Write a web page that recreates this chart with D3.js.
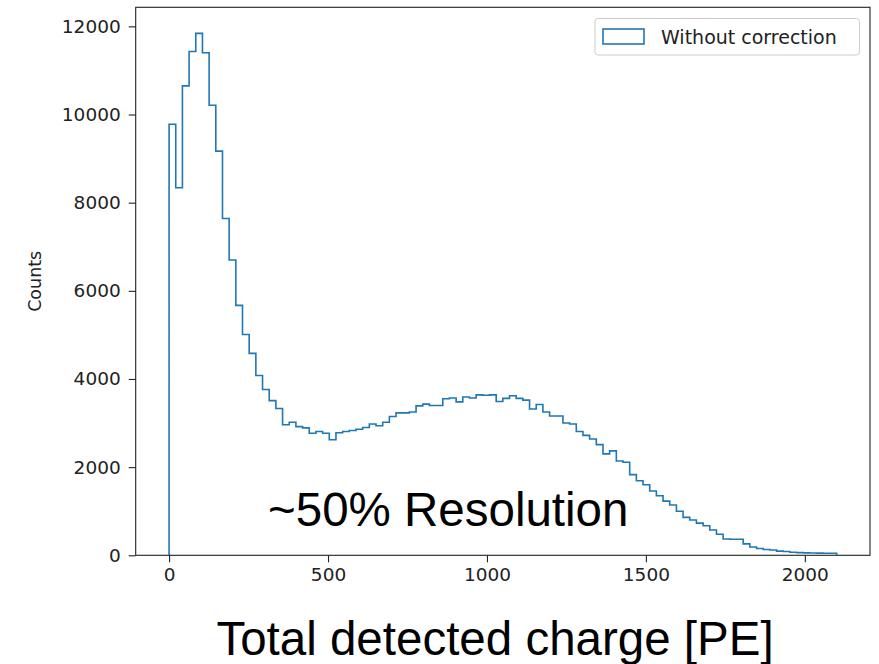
<!DOCTYPE html>
<html>
<head>
<meta charset="utf-8">
<script src="https://cdn.jsdelivr.net/npm/d3@7"></script>
<style>
  html, body { margin: 0; padding: 0; background: #fff; }
  svg { display: block; }
</style>
</head>
<body>
<script>
// ---- data ----
const binStart = 0;
const binWidth = 21;
const counts = [
  9780, 8340, 10650, 11430, 11840, 11400, 10210, 9170, 7640, 6700,
  5670, 5010, 4580, 4080, 3760, 3510, 3330, 2960, 3020, 2920,
  2890, 2770, 2810, 2770, 2620, 2780, 2810, 2830, 2860, 2900,
  2980, 2940, 3020, 3150, 3230, 3230, 3250, 3390, 3430, 3400,
  3400, 3550, 3570, 3480, 3590, 3570, 3640, 3630, 3640, 3490,
  3560, 3620, 3560, 3520, 3320, 3420, 3250, 3160, 3160, 3000,
  2980, 2810, 2720, 2640, 2510, 2300, 2370, 2140, 2110, 1830,
  1690, 1600, 1460, 1350, 1230, 1140, 1000, 860, 800, 730,
  670, 575, 477, 370, 365, 365, 260, 190, 155, 130,
  120, 95, 85, 70, 60, 55, 52, 50, 48, 45
];
const xTicks = [0, 500, 1000, 1500, 2000];
const yTicks = [0, 2000, 4000, 6000, 8000, 10000, 12000];
const legendLabel = "Without correction";
const yLabel = "Counts";
const xLabel = "Total detected charge [PE]";
const annotation = "~50% Resolution";

(function () {
// ---- layout ----
const W = 879, H = 664;
const mLeft = 135.7, mRight = 870, mTop = 7.3, mBottom = 555.3;
const tickFont = "DejaVu Sans, sans-serif";

const svg = d3.select("body").append("svg").attr("width", W).attr("height", H);

const edges = counts.map((_, i) => binStart + i * binWidth).concat([binStart + counts.length * binWidth]);
const xMin = edges[0], xMax = edges[edges.length - 1];
const xPad = (xMax - xMin) * 0.05;
const x = d3.scaleLinear().domain([xMin - xPad, xMax + xPad]).range([mLeft, mRight]);
const y = d3.scaleLinear().domain([0, d3.max(counts) * 1.05]).range([mBottom, mTop]);

// step path
const pts = [[edges[0], 0]];
counts.forEach((c, i) => { pts.push([edges[i], c]); pts.push([edges[i + 1], c]); });
pts.push([edges[edges.length - 1], 0]);
const line = d3.line().x(d => x(d[0])).y(d => y(d[1]));

svg.append("defs").append("clipPath").attr("id", "clip")
  .append("rect").attr("x", mLeft).attr("y", mTop).attr("width", mRight - mLeft).attr("height", mBottom - mTop);

svg.append("path").datum(pts)
  .attr("d", line)
  .attr("fill", "none")
  .attr("stroke", "#1f77b4")
  .attr("stroke-width", 1.6)
  .attr("stroke-linejoin", "miter")
  .attr("clip-path", "url(#clip)");

// axes
const xAxis = d3.axisBottom(x).tickValues(xTicks).tickSize(7).tickPadding(6).tickFormat(d3.format("d"));
const yAxis = d3.axisLeft(y).tickValues(yTicks).tickSize(7).tickPadding(8).tickFormat(d3.format("d"));

const gx = svg.append("g").attr("transform", `translate(0,${mBottom})`).call(xAxis);
const gy = svg.append("g").attr("transform", `translate(${mLeft},0)`).call(yAxis);
[gx, gy].forEach(g => {
  g.select(".domain").remove();
  g.selectAll(".tick line").attr("stroke", "#222").attr("stroke-width", 1.1);
  g.selectAll(".tick text").attr("fill", "#222").style("font-family", tickFont).style("font-size", "18.5px");
});

// frame
svg.append("rect").attr("x", mLeft).attr("y", mTop).attr("width", mRight - mLeft).attr("height", mBottom - mTop)
  .attr("fill", "none").attr("stroke", "#222").attr("stroke-width", 1.1);

// y label
svg.append("text")
  .attr("transform", `translate(41,${(mTop + mBottom) / 2}) rotate(-90)`)
  .attr("text-anchor", "middle")
  .attr("fill", "#222")
  .style("font-family", tickFont).style("font-size", "17.5px")
  .text(yLabel);

// legend
const lg = svg.append("g");
lg.append("rect").attr("x", 595).attr("y", 18.5).attr("width", 264.5).attr("height", 36.5)
  .attr("rx", 3).attr("fill", "#fff").attr("fill-opacity", 0.8).attr("stroke", "#ccc").attr("stroke-width", 1);
lg.append("rect").attr("x", 603).attr("y", 29).attr("width", 41).attr("height", 15)
  .attr("fill", "none").attr("stroke", "#1f77b4").attr("stroke-width", 1.6);
lg.append("text").attr("x", 661).attr("y", 36.8).attr("dy", "0.36em")
  .attr("fill", "#222").style("font-family", tickFont).style("font-size", "19px")
  .text(legendLabel);

// annotation
svg.append("text").attr("x", 268).attr("y", 526)
  .attr("fill", "#000").style("font-family", "Liberation Sans, Arial, sans-serif").style("font-size", "47.5px")
  .text(annotation);

// x label
svg.append("text").attr("x", 495).attr("y", 655).attr("text-anchor", "middle")
  .attr("fill", "#000").style("font-family", "Liberation Sans, Arial, sans-serif").style("font-size", "47.5px")
  .text(xLabel);
})();
</script>
</body>
</html>
